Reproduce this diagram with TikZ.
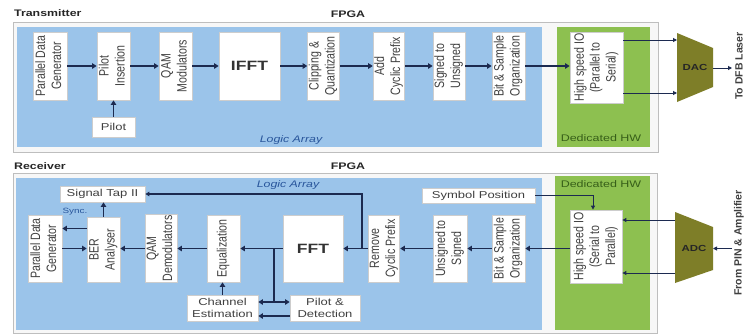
\documentclass[tikz,border=0pt]{standalone}
\usepackage{fontspec}
\usepackage{graphicx}
\setmainfont{Liberation Sans}
\newfontfamily\widefont[FakeStretch=1.3]{Liberation Sans}
\usetikzlibrary{arrows.meta}
\definecolor{la}{RGB}{155,196,234}
\definecolor{hw}{RGB}{141,192,80}
\definecolor{olv}{RGB}{126,126,40}
\definecolor{nav}{RGB}{28,42,80}
\definecolor{bord}{RGB}{205,205,205}
\definecolor{frm}{RGB}{190,190,190}
\definecolor{latext}{RGB}{40,85,155}
\definecolor{hwtext}{RGB}{55,95,25}
\newcommand{\vtxt}[1]{\rotatebox{90}{\scalebox{1}[1.28]{\begin{tabular}{@{}c@{}}#1\end{tabular}}}}
\begin{document}
\begin{tikzpicture}[x=1pt,y=-1pt,
  blk/.style={draw=bord, fill=white, line width=0.8pt, inner sep=0pt,
              font=\fontsize{10.6}{12.4}\selectfont, text=black!75},
  hbox/.style={draw=bord, fill=white, line width=0.8pt, inner sep=0pt,
              font=\widefont\fontsize{10}{11.5}\selectfont, text=black!75, align=center},
  lbl/.style={font=\widefont\bfseries\fontsize{9.5}{11}\selectfont, text=black!85, inner sep=0pt},
  lalbl/.style={font=\widefont\itshape\fontsize{9.5}{11}\selectfont, text=latext, inner sep=0pt},
  hwlbl/.style={font=\widefont\fontsize{9.6}{11}\selectfont, text=hwtext, inner sep=0pt},
  big/.style={font=\widefont\bfseries\fontsize{13.5}{15}\selectfont, text=black!80},
  frame/.style={draw=frm, fill=black!3, line width=0.8pt},
  arr/.style={draw=nav, line width=1.8pt, -{Triangle[length=4.5pt,width=5.5pt]}},
  tarr/.style={draw=nav, line width=1.2pt, -{Triangle[length=4pt,width=4.5pt]}},
  thn/.style={draw=nav, line width=0.9pt, -{Triangle[length=4pt,width=4pt]}},
  side/.style={font=\bfseries\fontsize{10.5}{12}\selectfont, text=black!75, rotate=90, inner sep=0pt}
]
\useasboundingbox[fill=white] (0,0) rectangle (744,335);

% ---------------- Transmitter ----------------
\node[lbl, anchor=west] (ttitle) at (14,13) {Transmitter};
\node[lbl] (tfpga) at (348,14) {FPGA};
\draw[frame] (13,22) rectangle (658,152);
\fill[la] (17,27) rectangle (542,147);
\fill[hw] (557,27) rectangle (650,147);
\node[lalbl] (tla) at (291,140) {Logic Array};
\node[hwlbl] (thw) at (601,138) {Dedicated HW};

\node[blk, minimum width=34, minimum height=68] (tpdg) at (50,66) {\vtxt{Parallel Data\\Generator}};
\node[blk, minimum width=33, minimum height=68] (tpi) at (113.5,66) {\vtxt{Pilot\\Insertion}};
\node[blk, minimum width=33, minimum height=68] (tqam) at (175.5,66) {\vtxt{QAM\\Modulators}};
\node[blk, big, minimum width=61, minimum height=68] (tifft) at (249.5,66) {IFFT};
\node[blk, minimum width=28, minimum height=68] (tclip) at (323.5,66) {\vtxt{Clipping \&\\Quantization}};
\node[blk, minimum width=28, minimum height=68] (tacp) at (389,66) {\vtxt{Add\\Cyclic Prefix}};
\node[blk, minimum width=32, minimum height=68] (tsu) at (449,66) {\vtxt{Signed to\\Unsigned}};
\node[blk, minimum width=33, minimum height=68] (tbs) at (508.5,66) {\vtxt{Bit \& Sample\\Organization}};
\node[blk, minimum width=53, minimum height=71] (thsio) at (596.5,67.5) {\vtxt{High speed IO\\(Parallel to\\Serial)}};
\node[hbox, minimum width=43, minimum height=20] (tpilot) at (113.5,127) {Pilot};

\draw[arr] (tpdg.east) -- (tpi.west);
\draw[arr] (tpi.east) -- (tqam.west);
\draw[arr] (tqam.east) -- (tifft.west);
\draw[arr] (tifft.east) -- (tclip.west);
\draw[arr] (tclip.east) -- (tacp.west);
\draw[arr] (tacp.east) -- (tsu.west);
\draw[arr] (tsu.east) -- (tbs.west);
\draw[arr] (tbs.east) -- (tbs.east -| thsio.west);
\draw[arr] (tpilot.north) -- (tpi.south);

% DAC
\fill[olv] (677,33) -- (713,48) -- (713,87) -- (677,102) -- cycle;
\node[font=\widefont\bfseries\fontsize{8.8}{10}\selectfont, text=black!85, inner sep=0pt] (dac) at (695,67.5) {DAC};
\coordinate (dacin1) at (677,40);
\coordinate (dacin2) at (677,93);
\coordinate (dacout) at (713,68);
\coordinate (dacend) at (732,68);
\draw[thn] (dacin1 -| thsio.east) -- (dacin1);
\draw[thn] (dacin2 -| thsio.east) -- (dacin2);
\draw[thn] (dacout) -- (dacend);
\node[side] (tolaser) at (739,66) {To DFB Laser};

% ---------------- Receiver ----------------
\node[lbl, anchor=west] (rtitle) at (14,166) {Receiver};
\node[lbl] (rfpga) at (348,166) {FPGA};
\draw[frame] (13,173) rectangle (657,333);
\fill[la] (16,178) rectangle (542,330);
\fill[hw] (555,176) rectangle (650,330);
\node[lalbl] (rla) at (288,185) {Logic Array};
\node[hwlbl] (rhw) at (601,184) {Dedicated HW};

\node[blk, minimum width=34, minimum height=67] (rpdg) at (45,248.5) {\vtxt{Parallel Data\\Generator}};
\node[blk, minimum width=33, minimum height=65] (rber) at (103.5,249.5) {\vtxt{BER\\Analyser}};
\node[blk, minimum width=32, minimum height=68] (rqam) at (161,248.5) {\vtxt{QAM\\Demodulators}};
\node[blk, minimum width=33, minimum height=67] (req) at (223.5,248.5) {\vtxt{Equalization}};
\node[blk, big, minimum width=60, minimum height=67] (rfft) at (313,248.5) {FFT};
\node[blk, minimum width=27, minimum height=67] (rrcp) at (384,248.5) {\vtxt{Remove\\Cyclic Prefix}};
\node[blk, minimum width=34, minimum height=67] (rus) at (450,248.5) {\vtxt{Unsigned to\\Signed}};
\node[blk, minimum width=33, minimum height=67] (rbs) at (508.5,248.5) {\vtxt{Bit \& Sample\\Organization}};
\node[blk, minimum width=52, minimum height=73] (rhsio) at (596,246.5) {\vtxt{High speed IO\\(Serial to\\Parallel)}};
\node[hbox, minimum width=85, minimum height=16] (rst) at (102.5,194) {Signal Tap II};
\node[hbox, minimum width=113, minimum height=15] (rsp) at (478.5,195.5) {Symbol Position};
\node[hbox, minimum width=71, minimum height=26] (rce) at (222.5,308) {Channel\\Estimation};
\node[hbox, minimum width=70, minimum height=26] (rpd) at (325,308) {Pilot \&\\Detection};

\draw[arr] (rbs.east -| rhsio.west) -- (rbs.east);
\draw[arr] (rbs.west) -- (rus.east);
\draw[arr] (rus.west) -- (rrcp.east);
\draw[arr] (rrcp.west) -- (rfft.east);
\draw[arr] (rfft.west) -- (req.east);
\draw[arr] (req.west) -- (rqam.east);
\draw[arr] (rqam.west) -- (rber.east |- rqam.west);
\draw[arr] (rpdg.east) -- (rpdg.east -| rber.west);
\draw[arr] ([yshift=20pt]rpdg.east -| rber.west) -- ([yshift=20pt]rpdg.east);
\node[font=\widefont\fontsize{7.6}{9}\selectfont, text=latext, inner sep=0pt] (sync) at (75,212) {Sync.};
\draw[arr] (rber.north) -- (rber.north |- rst.south);

\coordinate (rtap) at (362,248.5);
\draw[tarr] (rtap) |- (rst.east);

\coordinate (rbr) at (274,248.5);
\coordinate (rjn) at (274,302);
\draw[draw=nav, line width=1.8pt] (rbr) -- (rjn);
\draw[arr] (rjn) -- (rjn -| rce.east);
\draw[arr] (rjn) -- (rjn -| rpd.west);
\draw[arr] ([yshift=-8pt]rpd.west) -- ([yshift=-8pt]rpd.west -| rce.east);
\draw[arr] (rce.north) -- (rce.north |- req.south);

\draw[thn] (rsp.east) -| ([xshift=-3pt]rhsio.north);

% ADC
\fill[olv] (675,212) -- (713,227) -- (713,270) -- (675,283) -- cycle;
\node[font=\widefont\bfseries\fontsize{8.8}{10}\selectfont, text=black!85, inner sep=0pt] (adc) at (694,248) {ADC};
\coordinate (adcout1) at (675,220);
\coordinate (adcout2) at (675,273);
\coordinate (adcin) at (713,248.5);
\coordinate (adcsrc) at (732,248.5);
\draw[thn] (adcout1) -- (adcout1 -| rhsio.east);
\draw[thn] (adcout2) -- (adcout2 -| rhsio.east);
\draw[thn] (adcsrc) -- (adcin);
\node[side] (frompin) at (739,243) {From PIN \& Amplifier};
\end{tikzpicture}
\end{document}
